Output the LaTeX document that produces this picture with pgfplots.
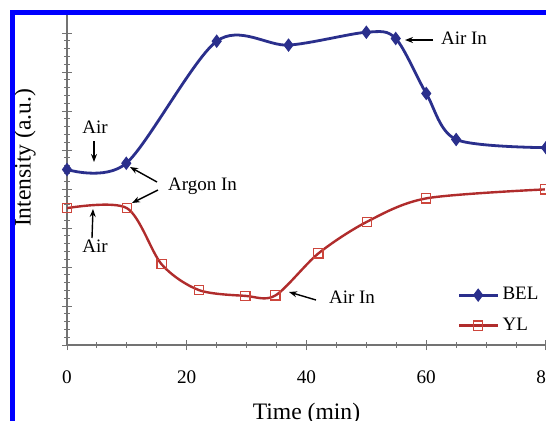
\documentclass[border=0pt]{standalone}
\usepackage{fontspec}
\setmainfont{Liberation Serif}
\usepackage{pgfplots}
\pgfplotsset{compat=1.18}
\usetikzlibrary{arrows.meta}
\definecolor{belblue}{RGB}{42,47,140}
\definecolor{ylred}{RGB}{176,44,44}
\definecolor{ylmark}{RGB}{205,70,60}
\definecolor{axgray}{RGB}{115,115,115}
\begin{document}
\begin{tikzpicture}
\fill[white] (0,0) rectangle (273pt,210pt);
\useasboundingbox (0,0) rectangle (273pt,210pt);
\clip (0,0) rectangle (273pt,210pt);
\begin{axis}[
  at={(33.5pt,37.5pt)}, anchor=south west,
  scale only axis, width=239.5pt, height=167.7pt,
  xmin=0, xmax=80, ymin=0, ymax=8.6,
  axis lines*=left, axis line style={axgray, line width=0.6pt},
  xtick={0,20,40,60,80}, minor x tick num=3,
  ytick={0,1,...,8}, minor y tick num=4, yticklabels={},
  tick align=center, major tick length=5pt, minor tick length=3pt,
  tick style={axgray, line width=0.5pt},
  /pgf/number format/assume math mode=true,
  tick label style={font=\fontsize{9.6}{11}\selectfont},
  xticklabel style={yshift=-7pt},
  label style={font=\fontsize{11.8}{14}\selectfont},
  xlabel={Time (min)}, ylabel={Intensity (a.u.)},
  xlabel style={at={(axis cs:40,-1.48)}, anchor=north, inner sep=0pt},
  ylabel style={at={(axis cs:-7,4.8)}, anchor=center, inner sep=0pt},
  legend style={draw=none, fill=none, at={(axis cs:65.2,1.59)}, anchor=north west,
    font=\fontsize{9.5}{11}\selectfont, row sep=3.5pt, inner sep=0pt},
  legend cell align=left,
  legend image code/.code={\draw[mark repeat=2, mark phase=2] plot coordinates {(0pt,0pt)(9.5pt,0pt)(19pt,0pt)};},
]
\addplot[belblue, line width=1.4pt, smooth, tension=0.5, mark=diamond*, mark size=3pt,
  mark options={fill=belblue, draw=belblue, line width=0.5pt}]
  coordinates {(0,4.50) (9.9,4.66) (25,7.79) (37,7.69) (50,8.02) (54.9,7.86) (60,6.45) (65,5.27) (80,5.06)};
\addlegendentry{BEL}
\addplot[ylred, line width=1.2pt, smooth, tension=0.5, mark=square, mark size=2.3pt,
  mark options={draw=ylmark, fill=none, line width=0.6pt}]
  coordinates {(0,3.51) (10,3.51) (15.8,2.07) (22,1.41) (29.8,1.26) (34.8,1.27) (42,2.35) (50.1,3.16) (60,3.76) (79.8,3.99)};
\addlegendentry{YL}
\end{axis}
\begin{scope}[x=0.5pt, y=-0.5pt, yshift=210pt, font=\fontsize{9.5}{11}\selectfont]
  \node at (95,127) {Air};
  \draw[line width=0.7pt, -{Stealth[length=4pt,width=3pt]}] (94,141) -- (94,162);
  \node[anchor=west] at (161,186) {Argon In};
  \draw[line width=0.7pt, -{Stealth[length=4pt,width=3pt]}] (157,182) -- (130,167);
  \draw[line width=0.7pt, -{Stealth[length=4pt,width=3pt]}] (158,190) -- (132,203);
  \node at (95,246) {Air};
  \draw[line width=0.7pt, -{Stealth[length=4pt,width=3pt]}] (92,238) -- (93,209);
  \node[anchor=west] at (322,297) {Air In};
  \draw[line width=0.7pt, -{Stealth[length=4pt,width=3pt]}] (316,300) -- (289,292);
  \node[anchor=west] at (434,38) {Air In};
  \draw[line width=0.7pt, -{Stealth[length=4pt,width=3pt]}] (433,40) -- (405,40);
\end{scope}
\draw[blue, line width=2.5pt] (6.25pt,-20pt) -- (6.25pt,203.75pt) -- (300pt,203.75pt);
\end{tikzpicture}
\end{document}
